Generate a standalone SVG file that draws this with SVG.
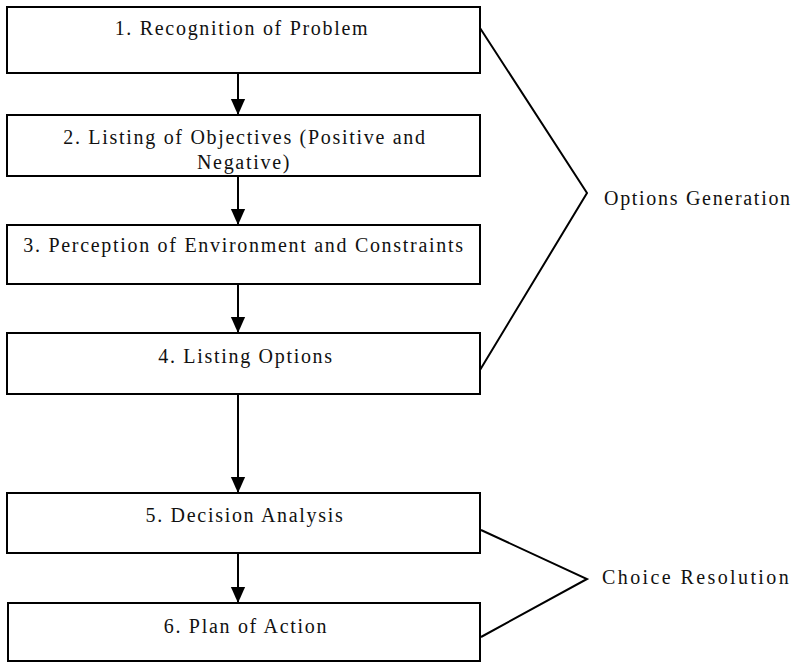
<svg xmlns="http://www.w3.org/2000/svg" width="795" height="663" viewBox="0 0 795 663">
  <style>
    .box { fill: #ffffff; stroke: #000000; stroke-width: 2; }
    .lbl { font-family: "Liberation Serif", "DejaVu Serif", serif; font-size: 20px; letter-spacing: 1.7px; fill: #111111; text-anchor: middle; }
    .side { font-family: "Liberation Serif", "DejaVu Serif", serif; font-size: 20px; letter-spacing: 1.7px; fill: #111111; }
    .flow { stroke: #000000; stroke-width: 2; fill: none; }
    .brace { stroke: #000000; stroke-width: 2; fill: none; stroke-linejoin: miter; }
  </style>
  <defs>
    <marker id="head" markerWidth="16" markerHeight="18" refX="18" refY="8" orient="auto" markerUnits="userSpaceOnUse" viewBox="0 0 18 16">
      <path d="M0,0 L18,8 L0,16 Z" fill="#000000"/>
    </marker>
  </defs>
  <rect width="795" height="663" fill="#ffffff"/>

  <g id="connectors">
    <line class="flow" x1="238" y1="73" x2="238" y2="115" marker-end="url(#head)"/>
    <line class="flow" x1="238" y1="176" x2="238" y2="225" marker-end="url(#head)"/>
    <line class="flow" x1="238" y1="284" x2="238" y2="333" marker-end="url(#head)"/>
    <line class="flow" x1="238" y1="394" x2="238" y2="493" marker-end="url(#head)"/>
    <line class="flow" x1="238" y1="553" x2="238" y2="603" marker-end="url(#head)"/>
    <polyline class="brace" points="480,28 587,193 480,370"/>
    <polyline class="brace" points="481,530 587,579 481,637"/>
  </g>

  <g id="node1">
    <rect class="box" x="7" y="7" width="473" height="66"/>
    <text class="lbl" x="242" y="35">1. Recognition of Problem</text>
  </g>
  <g id="node2">
    <rect class="box" x="7" y="115" width="473" height="61"/>
    <text class="lbl" x="245" y="144">2. Listing of Objectives (Positive and</text>
    <text class="lbl" x="244" y="169">Negative)</text>
  </g>
  <g id="node3">
    <rect class="box" x="7" y="225" width="473" height="59"/>
    <text class="lbl" x="244" y="252">3. Perception of Environment and Constraints</text>
  </g>
  <g id="node4">
    <rect class="box" x="7" y="333" width="473" height="61"/>
    <text class="lbl" x="246" y="363">4. Listing Options</text>
  </g>
  <g id="node5">
    <rect class="box" x="7" y="493" width="473" height="60"/>
    <text class="lbl" x="245" y="522">5. Decision Analysis</text>
  </g>
  <g id="node6">
    <rect class="box" x="8" y="603" width="472" height="58"/>
    <text class="lbl" x="246" y="633">6. Plan of Action</text>
  </g>

  <g id="group-labels">
    <text class="side" x="604" y="205">Options Generation</text>
    <text class="side" x="602" y="584" style="letter-spacing: 2.4px">Choice Resolution</text>
  </g>
</svg>
